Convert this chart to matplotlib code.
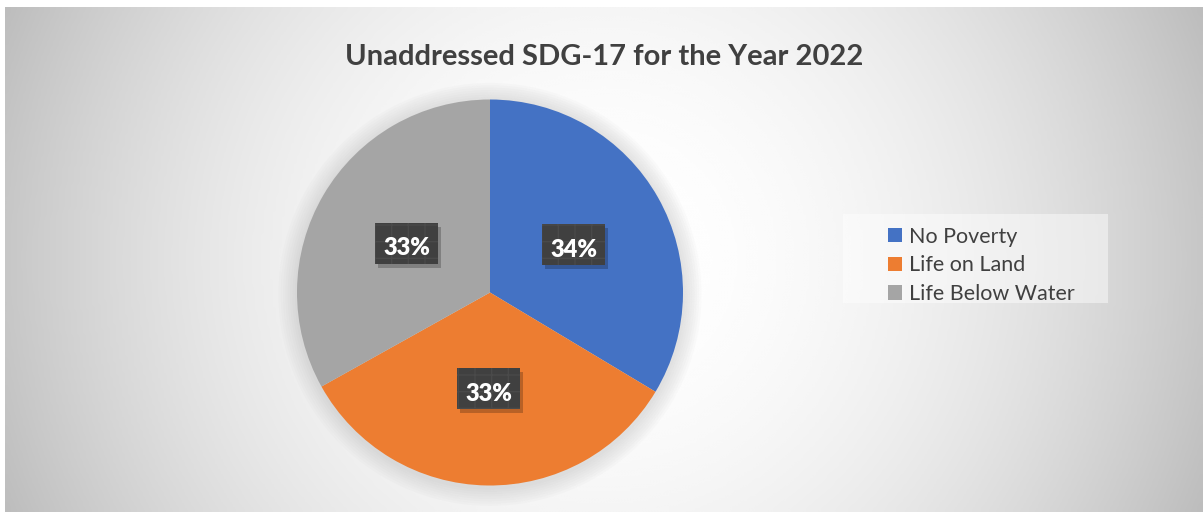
import numpy as np
import matplotlib
matplotlib.use('Agg')
import matplotlib.pyplot as plt
from matplotlib.patches import Rectangle, Patch, Circle

plt.rcParams['font.family'] = ['Lato', 'DejaVu Sans']

# data
categories = ['No Poverty', 'Life on Land', 'Life Below Water']
values = [33.6, 33.3, 33.1]
colors = ['#4472C4', '#ED7D31', '#A5A5A5']
title = 'Unaddressed SDG-17 for the Year 2022'

W, H = 1203, 512
fig = plt.figure(figsize=(W / 100, H / 100), dpi=100)
fig.patch.set_facecolor('white')

# background panel with soft gradient
bg = fig.add_axes([5 / W, 0, 1 - 5 / W, 1 - 7 / H])
bg.set_axis_off()
xx, yy = np.meshgrid(np.linspace(-1, 1, 400), np.linspace(-1, 1, 200))
shade = 1 - 0.22 * xx ** 2 - 0.04 * yy ** 2
bg.imshow(shade, cmap='gray', vmin=0, vmax=1, aspect='auto',
          extent=[0, 1, 0, 1], interpolation='bicubic')
bg.set_xlim(0, 1)
bg.set_ylim(0, 1)

# pie
cx, cy, r = 490, 292.5, 193
ax = fig.add_axes([(cx - r) / W, (H - cy - r) / H, 2 * r / W, 2 * r / H])
ax.set_axis_off()

# soft glow around the pie
for k in range(8):
    ax.add_patch(Circle((0, -0.01), 1 + 0.012 * (k + 1), color='#909090',
                        alpha=0.03, lw=0, zorder=0, clip_on=False))

wedges, texts = ax.pie(values, colors=colors, startangle=90, counterclock=False,
                       radius=1, wedgeprops=dict(linewidth=0))
ax.set_xlim(-1, 1)
ax.set_ylim(-1, 1)

bw, bh = 63 / r, 41 / r
total = sum(values)
for w, v in zip(wedges, values):
    ang = np.deg2rad((w.theta1 + w.theta2) / 2)
    x, y = 0.5 * np.cos(ang), 0.5 * np.sin(ang)
    lbl = '%d%%' % int(v / total * 100 + 0.5)
    # shadow, then the dark label box
    ax.add_patch(Rectangle((x - bw / 2 + 0.015, y - bh / 2 - 0.02), bw, bh,
                           facecolor='black', alpha=0.22, lw=0, zorder=3))
    ax.add_patch(Rectangle((x - bw / 2, y - bh / 2), bw, bh,
                           facecolor='#404040', edgecolor='#4a4a4a',
                           hatch='+', lw=0, zorder=4))
    ax.text(x, y - 0.025, lbl, ha='center', va='center', fontsize=17,
            fontweight='heavy', color='white', zorder=5)

fig.text(604 / W, 1 - 65 / H, title, ha='center', va='baseline',
         fontsize=21, fontweight='bold', color='#404040')

# legend
fig.patches.append(Rectangle((843 / W, 1 - 303 / H), (1108 - 843) / W,
                             (303 - 214) / H, transform=fig.transFigure,
                             facecolor='white', alpha=0.45, lw=0))
handles = [Patch(facecolor=c, edgecolor='none') for c in colors]
leg = fig.legend(handles, categories, loc='upper left',
                 bbox_to_anchor=(877 / W, 1 - 216 / H),
                 bbox_transform=fig.transFigure, frameon=False,
                 fontsize=15.5, handlelength=0.65, handleheight=0.65,
                 handletextpad=0.35, labelspacing=0.4, borderpad=0)
for t in leg.get_texts():
    t.set_color('#404040')

fig.savefig('out.png', dpi=100)
